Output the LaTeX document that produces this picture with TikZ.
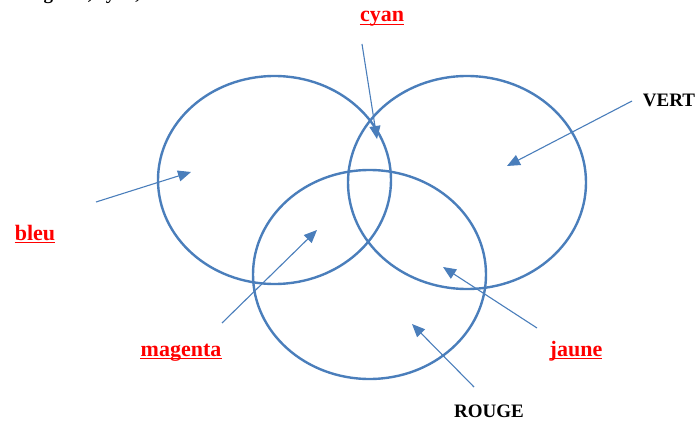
\documentclass[tikz,border=0pt]{standalone}
\usepackage{fontspec}
\setmainfont{Liberation Serif}
\usetikzlibrary{arrows.meta}
\definecolor{venn}{RGB}{74,126,187}
\definecolor{redlbl}{RGB}{255,0,0}

\begin{document}
\begin{tikzpicture}[x=1pt,y=-1pt,
  ring/.style={draw=venn,line width=2.4pt},
  pointer/.style={draw=venn,line width=1.1pt,-{Triangle[length=13pt,width=11pt]}},
  lbl/.style={inner sep=0pt,font=\fontsize{19}{22}\selectfont\bfseries},
  redlbl/.style={lbl,text=redlbl,font=\fontsize{22}{25}\selectfont\bfseries},
  uline/.style={draw=redlbl,line width=1.4pt}]
\useasboundingbox (0,0) rectangle (698,422);
% cut-off line of text above the picture
\node [lbl,anchor=base west] (top) at (18,0) {magenta, cyan,};
% the three circles
\draw [ring] (274.5,180.0) ellipse [x radius=116.5, y radius=104];
\draw [ring] (467.0,182.5) ellipse [x radius=119.0, y radius=106.5];
\draw [ring] (369.5,274.5) ellipse [x radius=116.5, y radius=104.5];
% labels
\node [redlbl,anchor=base] (cyan)    at (382,22)  {cyan};
\node [redlbl,anchor=base] (bleu)    at (35,240)  {bleu};
\node [redlbl,anchor=base] (magenta) at (181,356) {magenta};
\node [redlbl,anchor=base] (jaune)   at (576,356) {jaune};
\node [lbl,anchor=base]    (vert)    at (669,107) {VERT};
\node [lbl,anchor=base]    (rouge)   at (489,417) {ROUGE};
\foreach \n in {cyan,bleu,magenta,jaune}
  \draw [uline] ([yshift=-2.5pt]\n.base west) -- ([yshift=-2.5pt]\n.base east);
% arrow ends
\coordinate (cyan-tail)    at (362,44);
\coordinate (cyan-tip)     at (377,139);
\coordinate (vert-tail)    at (632,101);
\coordinate (vert-tip)     at (507,166);
\coordinate (bleu-tail)    at (96,202);
\coordinate (bleu-tip)     at (191,172);
\coordinate (magenta-tail) at (222,323);
\coordinate (magenta-tip)  at (317,230);
\coordinate (jaune-tail)   at (537,328);
\coordinate (jaune-tip)    at (443,267);
\coordinate (rouge-tail)   at (474,387);
\coordinate (rouge-tip)    at (412,324);
\foreach \n in {cyan,vert,bleu,magenta,jaune,rouge}
  \draw [pointer] (\n-tail) -- (\n-tip);
\end{tikzpicture}
\end{document}
